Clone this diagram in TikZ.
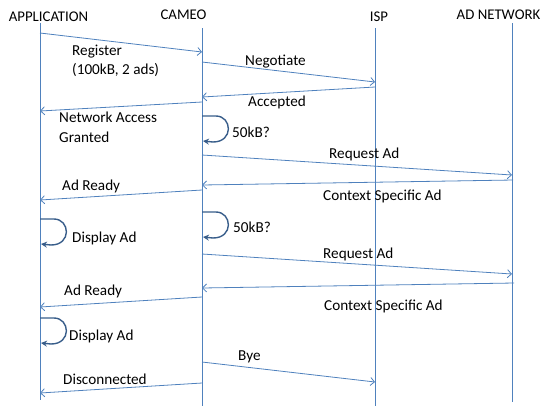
\documentclass[tikz,border=0pt]{standalone}
\usepackage{fontspec}
\setmainfont{Carlito}
\usetikzlibrary{arrows.meta}
\definecolor{msgblue}{HTML}{4F81BD}
\definecolor{loopblue}{HTML}{385D8A}

\begin{document}
\begin{tikzpicture}[x=1pt,y=-1pt,
  txt/.style={inner sep=0pt, font=\fontsize{15.2}{18}\selectfont},
  lbl/.style={txt, anchor=base west},
  head/.style={txt, anchor=base, font=\fontsize{14.8}{18}\selectfont},
  life/.style={draw=msgblue, line width=0.9pt},
  msg/.style={draw=msgblue, line width=0.8pt, -{Straight Barb[length=4pt,width=8pt]}},
  loopline/.style={draw=loopblue, line width=1.4pt, -{Stealth[length=6pt,width=6pt,inset=2pt]}},
  selfloop/.pic={\draw[loopline] (0,0) -- (14,0) .. controls (30,0) and (32,26) .. (11,26) -- (1,25);}
]
\useasboundingbox (0,0) rectangle (545,408);

% participants
\node[head] (app) at (48.5,21) {APPLICATION};
\node[head] (cam) at (183.5,19) {CAMEO};
\node[head] (isp) at (379,21) {ISP};
\node[head] (adn) at (498.5,19) {AD NETWORK};

% lifelines
\coordinate (appT) at (40,23);  \coordinate (appB) at (40,400);
\coordinate (camT) at (202,28); \coordinate (camB) at (202,406);
\coordinate (ispT) at (375,28); \coordinate (ispB) at (375,406);
\coordinate (adnT) at (512,23); \coordinate (adnB) at (512,402);
\draw[life] (appT) -- (appB);
\draw[life] (camT) -- (camB);
\draw[life] (ispT) -- (ispB);
\draw[life] (adnT) -- (adnB);

% message end points
\coordinate (r1) at (40,33);   \coordinate (r2) at (202,52);
\coordinate (n1) at (202,62);  \coordinate (n2) at (375,82);
\coordinate (a1) at (375,87);  \coordinate (a2) at (202,97);
\coordinate (g1) at (202,102); \coordinate (g2) at (40,111);
\coordinate (q1) at (202,155); \coordinate (q2) at (512,175);
\coordinate (c1) at (513,180); \coordinate (c2) at (202,185);
\coordinate (d1) at (202,190); \coordinate (d2) at (40,200);
\coordinate (q3) at (202,254); \coordinate (q4) at (512,274);
\coordinate (c3) at (514,283); \coordinate (c4) at (202,288);
\coordinate (d3) at (202,297); \coordinate (d4) at (40,307);
\coordinate (b1) at (202,362); \coordinate (b2) at (375,382);
\coordinate (x1) at (202,383); \coordinate (x2) at (40,393);

% messages
\draw[msg] (r1) -- (r2);
\draw[msg] (n1) -- (n2);
\draw[msg] (a1) -- (a2);
\draw[msg] (g1) -- (g2);
\draw[msg] (q1) -- (q2);
\draw[msg] (c1) -- (c2);
\draw[msg] (d1) -- (d2);
\draw[msg] (q3) -- (q4);
\draw[msg] (c3) -- (c4);
\draw[msg] (d3) -- (d4);
\draw[msg] (b1) -- (b2);
\draw[msg] (x1) -- (x2);

% self checks
\pic at (202,116) {selfloop};
\pic at (40,219) {selfloop};
\pic at (202,212) {selfloop};
\pic at (40,318) {selfloop};

% labels
\node[lbl] (l1)  at (72,55)   {Register};
\node[lbl] (l1b) at (72,74)   {(100kB, 2 ads)};
\node[lbl] (l2)  at (245,65)  {Negotiate};
\node[lbl] (l3)  at (248,106) {Accepted};
\node[lbl] (l4)  at (59,122)  {Network Access};
\node[lbl] (l4b) at (59,142)  {Granted};
\node[lbl] (l5)  at (232,137) {50kB?};
\node[lbl] (l6)  at (329,158) {Request Ad};
\node[lbl] (l7)  at (323,200) {Context Specific Ad};
\node[lbl] (l8)  at (62,190)  {Ad Ready};
\node[lbl] (l9)  at (72,242)  {Display Ad};
\node[lbl] (l10) at (233,232) {50kB?};
\node[lbl] (l11) at (323,258) {Request Ad};
\node[lbl] (l12) at (324,310) {Context Specific Ad};
\node[lbl] (l13) at (64,295)  {Ad Ready};
\node[lbl] (l14) at (69,340)  {Display Ad};
\node[lbl] (l15) at (238,360) {Bye};
\node[lbl] (l16) at (63,384)  {Disconnected};
\end{tikzpicture}
\end{document}
